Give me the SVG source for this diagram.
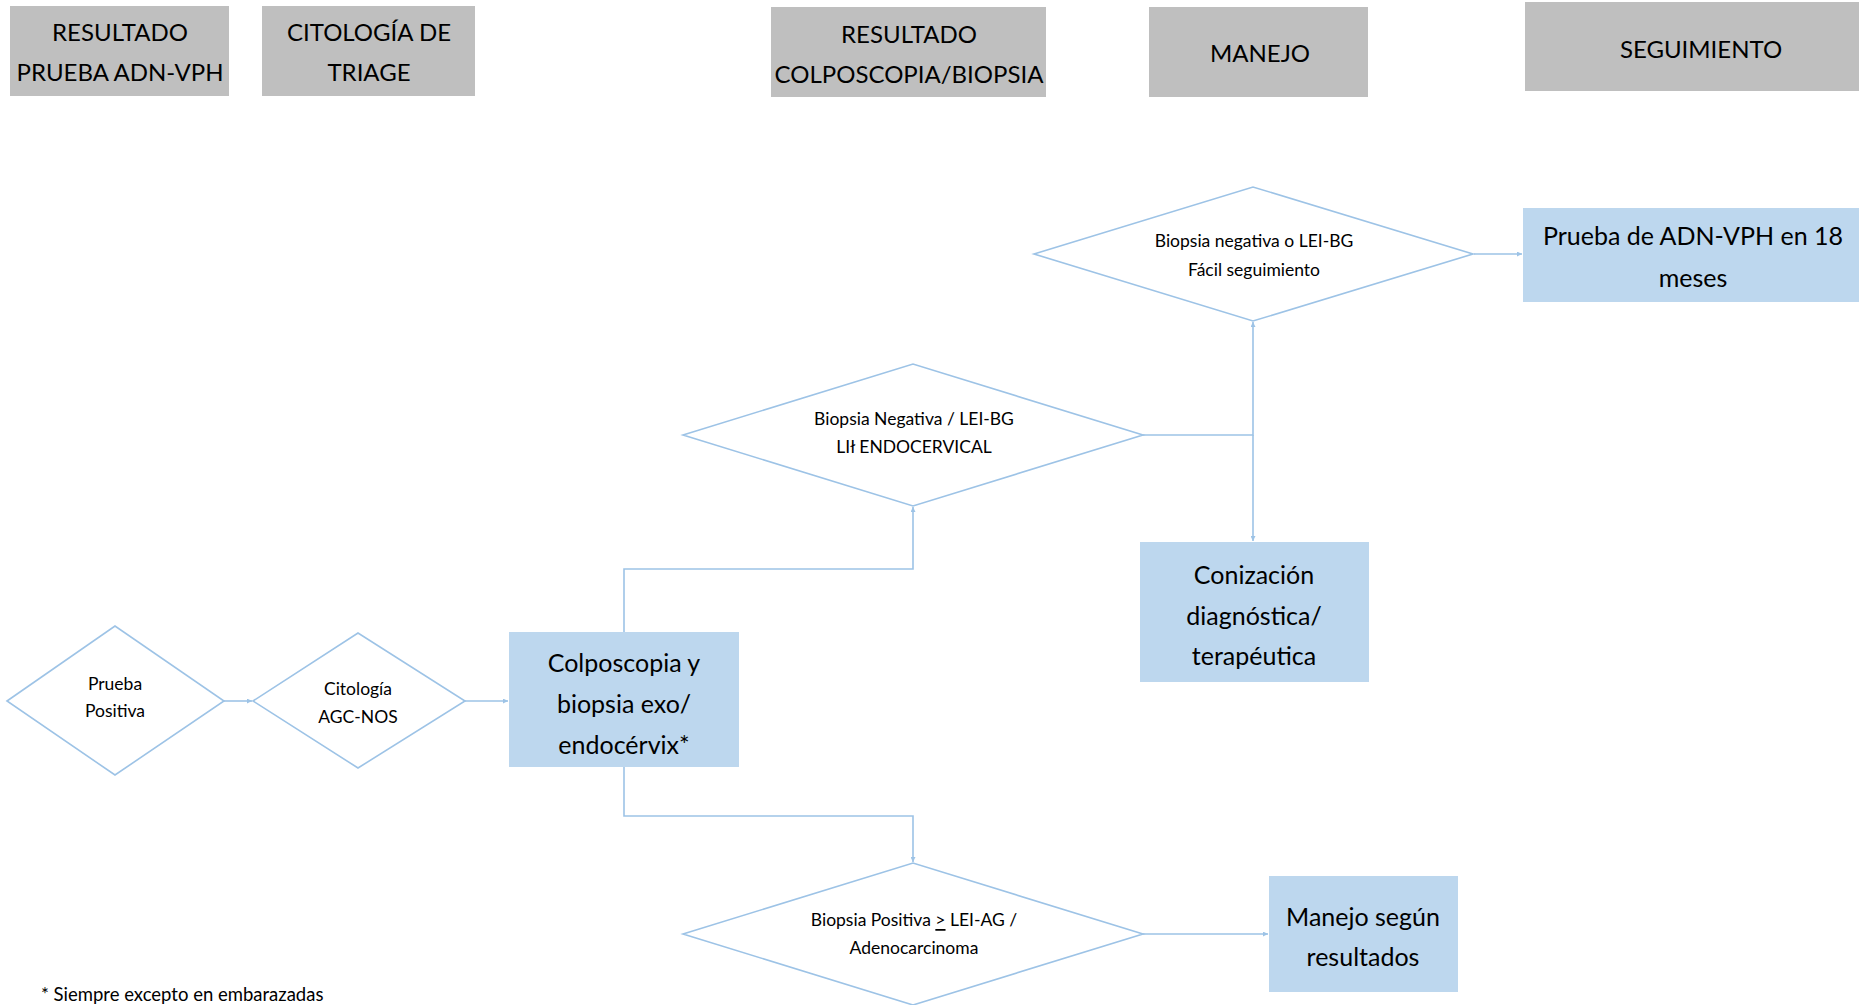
<svg xmlns="http://www.w3.org/2000/svg" width="1859" height="1005" viewBox="0 0 1859 1005">
<style>
  .hdr { fill: #BFBFBF; }
  .ht { font-family: Lato, "Liberation Sans", sans-serif; font-size: 24px; fill: #000; text-anchor: middle; dominant-baseline: central; }
  .box { fill: #BDD7EE; }
  .bt { font-family: Lato, "Liberation Sans", sans-serif; font-size: 25px; fill: #000; text-anchor: middle; dominant-baseline: central; }
  .dia { fill: #FFFFFF; stroke: #9DC3E6; stroke-width: 1.6; }
  .dt { font-family: Lato, "Liberation Sans", sans-serif; font-size: 17.5px; fill: #000; text-anchor: middle; dominant-baseline: central; }
  .con { fill: none; stroke: #9DC3E6; stroke-width: 1.6; marker-end: url(#arr); }
  .note { font-family: Lato, "Liberation Sans", sans-serif; font-size: 18.5px; fill: #000; dominant-baseline: central; }
</style>
<defs>
  <marker id="arr" viewBox="0 0 10 10" refX="10" refY="5" markerWidth="5" markerHeight="5" markerUnits="userSpaceOnUse" orient="auto">
    <path d="M0,0 L10,5 L0,10 z" fill="#9DC3E6"/>
  </marker>
</defs>
<rect width="1859" height="1005" fill="#FFFFFF"/>

<g id="h1"><rect class="hdr" x="10" y="6" width="219" height="90"/><text class="ht" x="120" y="31">RESULTADO</text><text class="ht" x="120" y="71">PRUEBA ADN-VPH</text></g>
<g id="h2"><rect class="hdr" x="262" y="6" width="213" height="90"/><text class="ht" x="369" y="31">CITOLOGÍA DE</text><text class="ht" x="369" y="71">TRIAGE</text></g>
<g id="h3"><rect class="hdr" x="771" y="7" width="275" height="90"/><text class="ht" x="909" y="33">RESULTADO</text><text class="ht" x="909" y="73">COLPOSCOPIA/BIOPSIA</text></g>
<g id="h4"><rect class="hdr" x="1149" y="7" width="219" height="90"/><text class="ht" x="1260" y="52">MANEJO</text></g>
<g id="h5"><rect class="hdr" x="1525" y="2" width="345" height="89"/><text class="ht" x="1701" y="48">SEGUIMIENTO</text></g>

<g id="connectors">
  <path class="con" d="M224,701 H252"/>
  <path class="con" d="M465,701 H508"/>
  <path class="con" d="M624,632 V569 H913 V507"/>
  <path class="con" d="M624,767 V816 H913 V862"/>
  <path class="con" d="M1143,435 H1253 V322"/>
  <path class="con" d="M1253,435 V541"/>
  <path class="con" d="M1474,254 H1522"/>
  <path class="con" d="M1143,934 H1268"/>
</g>

<g id="d1"><polygon class="dia" points="7,701 115,626 224,701 115,775"/><text class="dt" x="115" y="683">Prueba</text><text class="dt" x="115" y="710">Positiva</text></g>
<g id="d2"><polygon class="dia" points="253,701 358,633 465,701 358,768"/><text class="dt" x="358" y="688">Citología</text><text class="dt" x="358" y="716">AGC-NOS</text></g>
<g id="colpo"><rect class="box" x="509" y="632" width="230" height="135"/><text class="bt" x="624" y="662">Colposcopia y</text><text class="bt" x="624" y="703">biopsia exo/</text><text class="bt" x="624" y="744">endocérvix*</text></g>
<g id="dmid"><polygon class="dia" points="683,435 913,364 1143,435 913,506"/><text class="dt" x="914" y="418">Biopsia Negativa / LEI-BG</text><text class="dt" x="914" y="446">LIł ENDOCERVICAL</text></g>
<g id="dtop"><polygon class="dia" points="1034,254 1253,187 1473,254 1253,321"/><text class="dt" x="1254" y="240">Biopsia negativa o LEI-BG</text><text class="dt" x="1254" y="269">Fácil seguimiento</text></g>
<g id="prueba18"><rect class="box" x="1523" y="208" width="350" height="94"/><text class="bt" x="1693" y="235">Prueba de ADN-VPH en 18</text><text class="bt" x="1693" y="277">meses</text></g>
<g id="coniz"><rect class="box" x="1140" y="542" width="229" height="140"/><text class="bt" x="1254" y="574">Conización</text><text class="bt" x="1254" y="615">diagnóstica/</text><text class="bt" x="1254" y="655">terapéutica</text></g>
<g id="dbot"><polygon class="dia" points="683,934 913,863 1143,934 913,1005"/><text class="dt" x="914" y="919">Biopsia Positiva <tspan text-decoration="underline">&gt;</tspan> LEI-AG /</text><text class="dt" x="914" y="947">Adenocarcinoma</text></g>
<g id="manejo"><rect class="box" x="1269" y="876" width="189" height="116"/><text class="bt" x="1363" y="916">Manejo según</text><text class="bt" x="1363" y="956">resultados</text></g>

<text class="note" x="41" y="994">* Siempre excepto en embarazadas</text>
</svg>
